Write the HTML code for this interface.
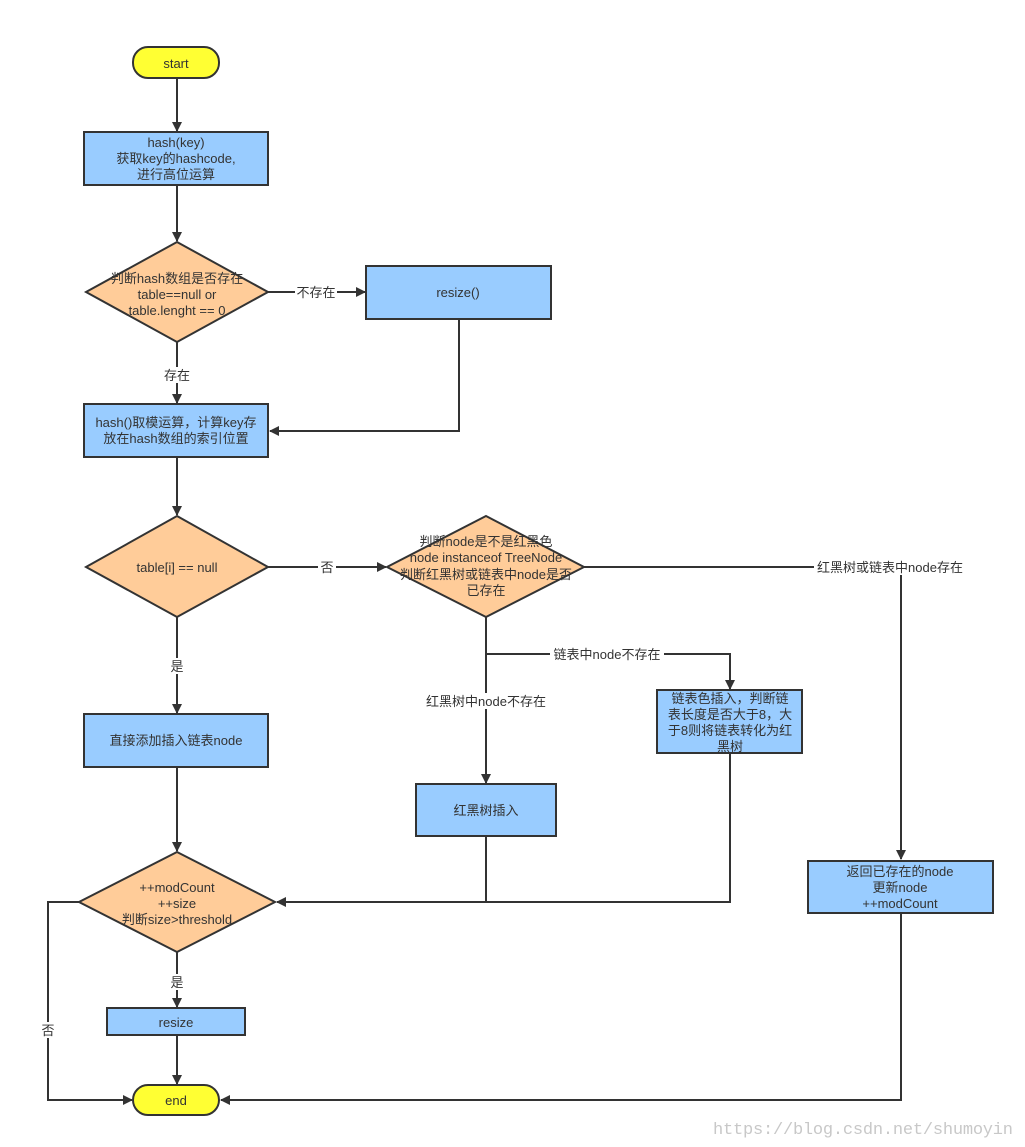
<!DOCTYPE html>
<html><head><meta charset="utf-8"><style>
html,body{margin:0;padding:0;background:#fff;}
svg{display:block;}
text{font-family:"Liberation Sans","Noto Sans CJK SC",sans-serif;font-size:13px;fill:#333;}
</style></head><body>
<svg width="1025" height="1147" viewBox="0 0 1025 1147" xmlns="http://www.w3.org/2000/svg">
<defs>
<marker id="a" markerWidth="10" markerHeight="10" refX="9" refY="5" orient="auto" markerUnits="userSpaceOnUse">
<path d="M0,0 L10,5 L0,10 Z" fill="#333"/></marker>
</defs>
<g stroke="#333" stroke-width="2" fill="none">
<!-- connectors -->
<path d="M177,78 V131" marker-end="url(#a)"/>
<path d="M177,185 V241" marker-end="url(#a)"/>
<path d="M268,292 H365" marker-end="url(#a)"/>
<path d="M177,342 V403" marker-end="url(#a)"/>
<path d="M459,319 V431 H270" marker-end="url(#a)"/>
<path d="M177,457 V515" marker-end="url(#a)"/>
<path d="M268,567 H386" marker-end="url(#a)"/>
<path d="M584,567 H901 V859" marker-end="url(#a)"/>
<path d="M486,617 V783" marker-end="url(#a)"/>
<path d="M486,654 H730 V689" marker-end="url(#a)"/>
<path d="M177,617 V713" marker-end="url(#a)"/>
<path d="M177,767 V851" marker-end="url(#a)"/>
<path d="M486,836 V902 H277" marker-end="url(#a)"/>
<path d="M730,753 V902 H486"/>
<path d="M177,952 V1007" marker-end="url(#a)"/>
<path d="M177,1035 V1084" marker-end="url(#a)"/>
<path d="M79,902 H48 V1100 H132" marker-end="url(#a)"/>
<path d="M901,913 V1100 H221" marker-end="url(#a)"/>
</g>
<g stroke="#333" stroke-width="2">
<rect x="133" y="47" width="86" height="31" rx="15" fill="#ffff33"/>
<rect x="84" y="132" width="184" height="53" fill="#99ccff"/>
<polygon points="177,242 268,292 177,342 86,292" fill="#ffcc99"/>
<rect x="366" y="266" width="185" height="53" fill="#99ccff"/>
<rect x="84" y="404" width="184" height="53" fill="#99ccff"/>
<polygon points="177,516 268,567 177,617 86,567" fill="#ffcc99"/>
<polygon points="486,516 584,567 486,617 387,567" fill="#ffcc99"/>
<rect x="657" y="690" width="145" height="63" fill="#99ccff"/>
<rect x="84" y="714" width="184" height="53" fill="#99ccff"/>
<rect x="416" y="784" width="140" height="52" fill="#99ccff"/>
<rect x="808" y="861" width="185" height="52" fill="#99ccff"/>
<polygon points="177,852 275,902 177,952 79,902" fill="#ffcc99"/>
<rect x="107" y="1008" width="138" height="27" fill="#99ccff"/>
<rect x="133" y="1085" width="86" height="30" rx="15" fill="#ffff33"/>
</g>
<!-- edge label backgrounds -->
<g fill="#fff">
<rect x="295" y="284" width="42" height="16"/>
<rect x="162" y="367" width="30" height="16"/>
<rect x="318" y="559" width="18" height="16"/>
<rect x="814" y="559" width="152" height="16"/>
<rect x="550" y="646" width="114" height="16"/>
<rect x="422" y="693" width="128" height="16"/>
<rect x="168" y="658" width="18" height="16"/>
<rect x="168" y="974" width="18" height="16"/>
<rect x="40" y="1022" width="16" height="16"/>
</g>
<g text-anchor="middle">
<text x="176" y="68">start</text>
<text x="176" y="147">hash(key)</text>
<text x="176" y="163">获取key的hashcode,</text>
<text x="176" y="179">进行高位运算</text>
<text x="177" y="283">判断hash数组是否存在</text>
<text x="177" y="299">table==null or</text>
<text x="177" y="315">table.lenght == 0</text>
<text x="316" y="297">不存在</text>
<text x="458" y="297">resize()</text>
<text x="177" y="380">存在</text>
<text x="176" y="427">hash()取模运算，计算key存</text>
<text x="176" y="443">放在hash数组的索引位置</text>
<text x="177" y="572">table[i] == null</text>
<text x="327" y="572">否</text>
<text x="486" y="546">判断node是不是红黑色</text>
<text x="486" y="562">node instanceof TreeNode</text>
<text x="486" y="579">判断红黑树或链表中node是否</text>
<text x="486" y="595">已存在</text>
<text x="890" y="572">红黑树或链表中node存在</text>
<text x="607" y="659">链表中node不存在</text>
<text x="486" y="706">红黑树中node不存在</text>
<text x="177" y="671">是</text>
<text x="730" y="703">链表色插入，判断链</text>
<text x="730" y="719">表长度是否大于8，大</text>
<text x="730" y="735">于8则将链表转化为红</text>
<text x="730" y="751">黑树</text>
<text x="176" y="745">直接添加插入链表node</text>
<text x="486" y="815">红黑树插入</text>
<text x="900" y="876">返回已存在的node</text>
<text x="900" y="892">更新node</text>
<text x="900" y="908">++modCount</text>
<text x="177" y="892">++modCount</text>
<text x="177" y="908">++size</text>
<text x="177" y="924">判断size&gt;threshold</text>
<text x="177" y="987">是</text>
<text x="176" y="1027">resize</text>
<text x="48" y="1035">否</text>
<text x="176" y="1105">end</text>
</g>
<text x="713" y="1134" textLength="300" style="font-family:'Liberation Mono',monospace;font-size:17px;fill:#c8c8c8;">https://blog.csdn.net/shumoyin</text>
</svg>
</body></html>
